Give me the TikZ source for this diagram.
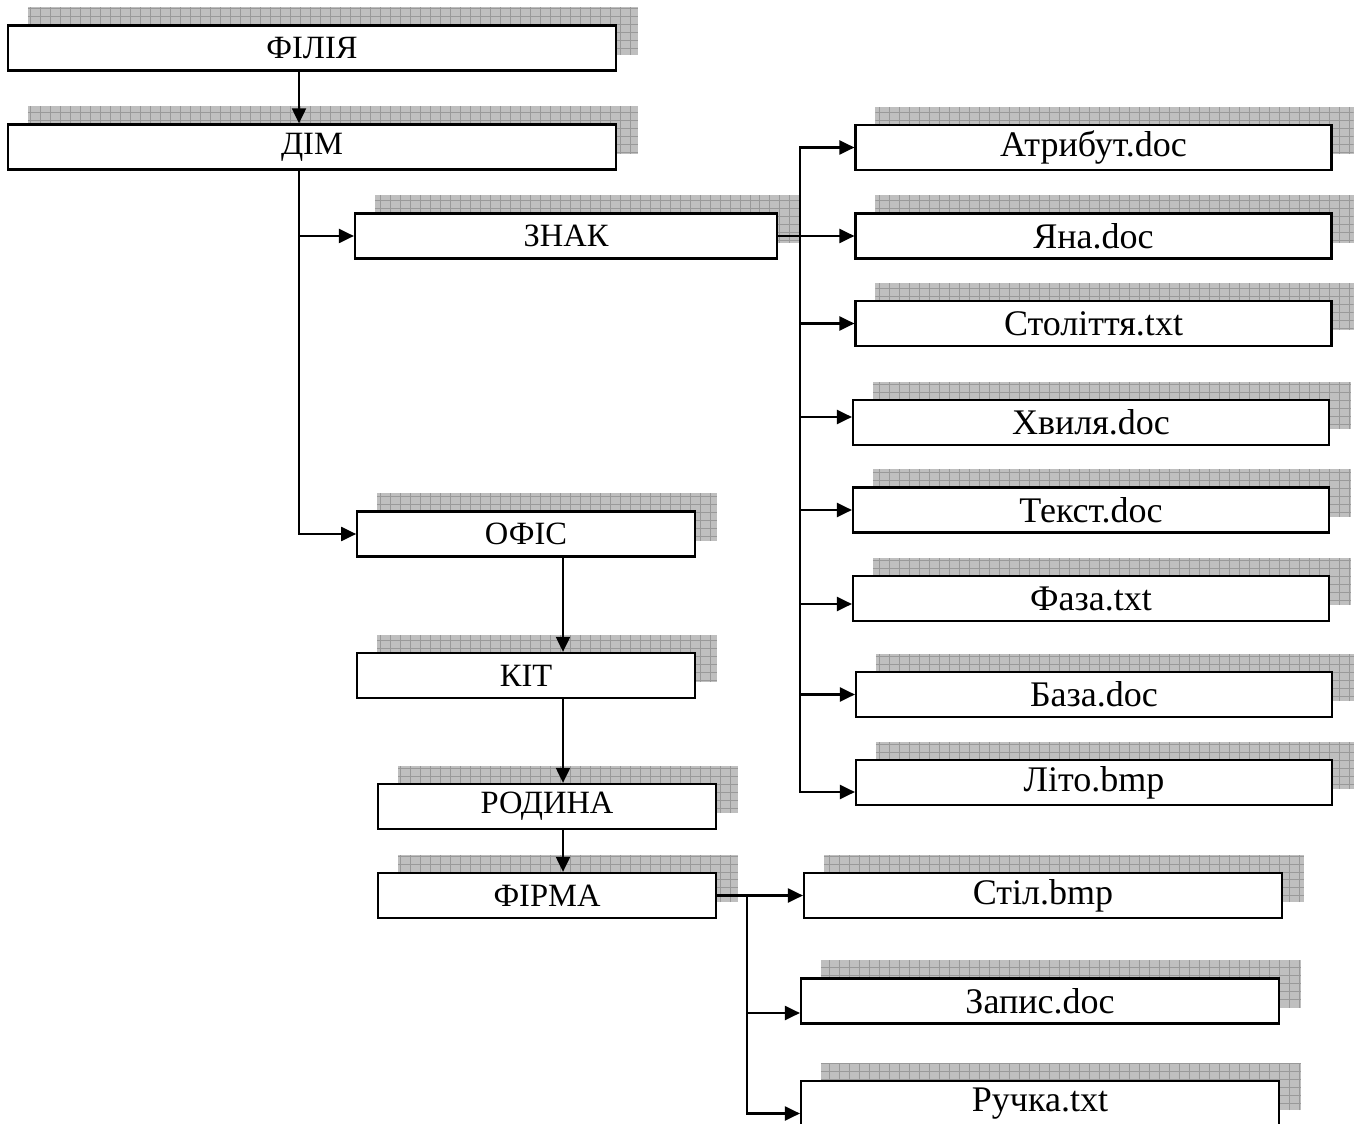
\documentclass[tikz,border=0pt]{standalone}
\usepackage{fontspec}
\setmainfont{Liberation Serif}
\usetikzlibrary{arrows.meta,backgrounds}
\begin{document}
\begin{tikzpicture}[x=0.02cm,y=-0.02cm,
  box/.style={draw,fill=white,line width=1.3pt,minimum height=0.9cm,inner sep=0pt},
  dir/.style={box,font=\fontsize{18.5}{20}\selectfont},
  file/.style={box,minimum width=9.52cm,font=\fontsize{20.5}{23}\selectfont},
  conn/.style={line width=1.2pt,-{Triangle[length=0.3cm,width=0.28cm]}},
  shadowbox/.style={fill=black!25,path picture={\draw[black!40,line width=0.4pt,xstep=0.2cm,ystep=0.16cm] (path picture bounding box.south west) grid (path picture bounding box.north east);}}]
\useasboundingbox (0,0) rectangle (1361,1124);
\node[dir,minimum width=12.16cm] (d1) at (312,48) {ФІЛІЯ};
\node[dir,minimum width=12.16cm] (d2) at (312,147) {ДІМ};
\node[dir,minimum width=8.44cm] (d3) at (566,236) {ЗНАК};
\node[dir,minimum width=6.75cm] (d4) at (526,534) {ОФІС};
\node[dir,minimum width=6.75cm] (d5) at (526,675.5) {КІТ};
\node[dir,minimum width=6.75cm] (d6) at (547,806.5) {РОДИНА};
\node[dir,minimum width=6.75cm] (d7) at (547,895.5) {ФІРМА};

\node[file] (f1) at (1093.5,147.5) {Атрибут.doc};
\node[file] (f2) at (1093.5,236) {Яна.doc};
\node[file] (f3) at (1093.5,323.5) {Століття.txt};
\node[file] (f4) at (1091,422.5) {Хвиля.doc};
\node[file] (f5) at (1091,510) {Текст.doc};
\node[file] (f6) at (1091,598.5) {Фаза.txt};
\node[file] (f7) at (1094,694.5) {База.doc};
\node[file] (f8) at (1094,782.5) {Літо.bmp};
\node[file,minimum width=9.56cm] (f9) at (1043,895.5) {Стіл.bmp};
\node[file,minimum width=9.56cm] (f10) at (1040,1001) {Запис.doc};
\node[file,minimum width=9.56cm] (f11) at (1040,1103.5) {Ручка.txt};

\coordinate (t0) at (299,147);
\coordinate (c0) at (563,600);
\coordinate (t1) at (800,236);
\coordinate (t2) at (747,895.5);

\path[draw,conn] (d1.south -| t0) -- (d2.north -| t0);
\path[draw,conn] (d2.south -| t0) |- (d3);
\path[draw,conn] (d2.south -| t0) |- (d4);
\path[draw,conn] (d4.south -| c0) -- (d5.north -| c0);
\path[draw,conn] (d5.south -| c0) -- (d6.north -| c0);
\path[draw,conn] (d6.south -| c0) -- (d7.north -| c0);

\path[draw,conn] (d3) -- (f2);
\path[draw,conn] (t1) |- (f1);
\path[draw,conn] (t1) |- (f3);
\path[draw,conn] (t1) |- ([yshift=0.11cm]f4.west);
\path[draw,conn] (t1) |- (f5);
\path[draw,conn] (t1) |- ([yshift=-0.11cm]f6.west);
\path[draw,conn] (t1) |- (f7);
\path[draw,conn] (t1) |- ([yshift=-0.19cm]f8.west);

\path[draw,conn] (d7) -- (f9);
\path[draw,conn] (t2) |- ([yshift=-0.24cm]f10.west);
\path[draw,conn] (t2) |- ([yshift=-0.2cm]f11.west);

% shadows
\begin{scope}[on background layer]
\foreach \n in {d1,d2,d3,d4,d5,d6,d7,f1,f2,f3,f4,f5,f6,f7,f8,f9,f10,f11}
  \path[shadowbox] ([shift={(21,-17)}]\n.south west) rectangle ([shift={(21,-17)}]\n.north east);
\end{scope}
\end{tikzpicture}
\end{document}
